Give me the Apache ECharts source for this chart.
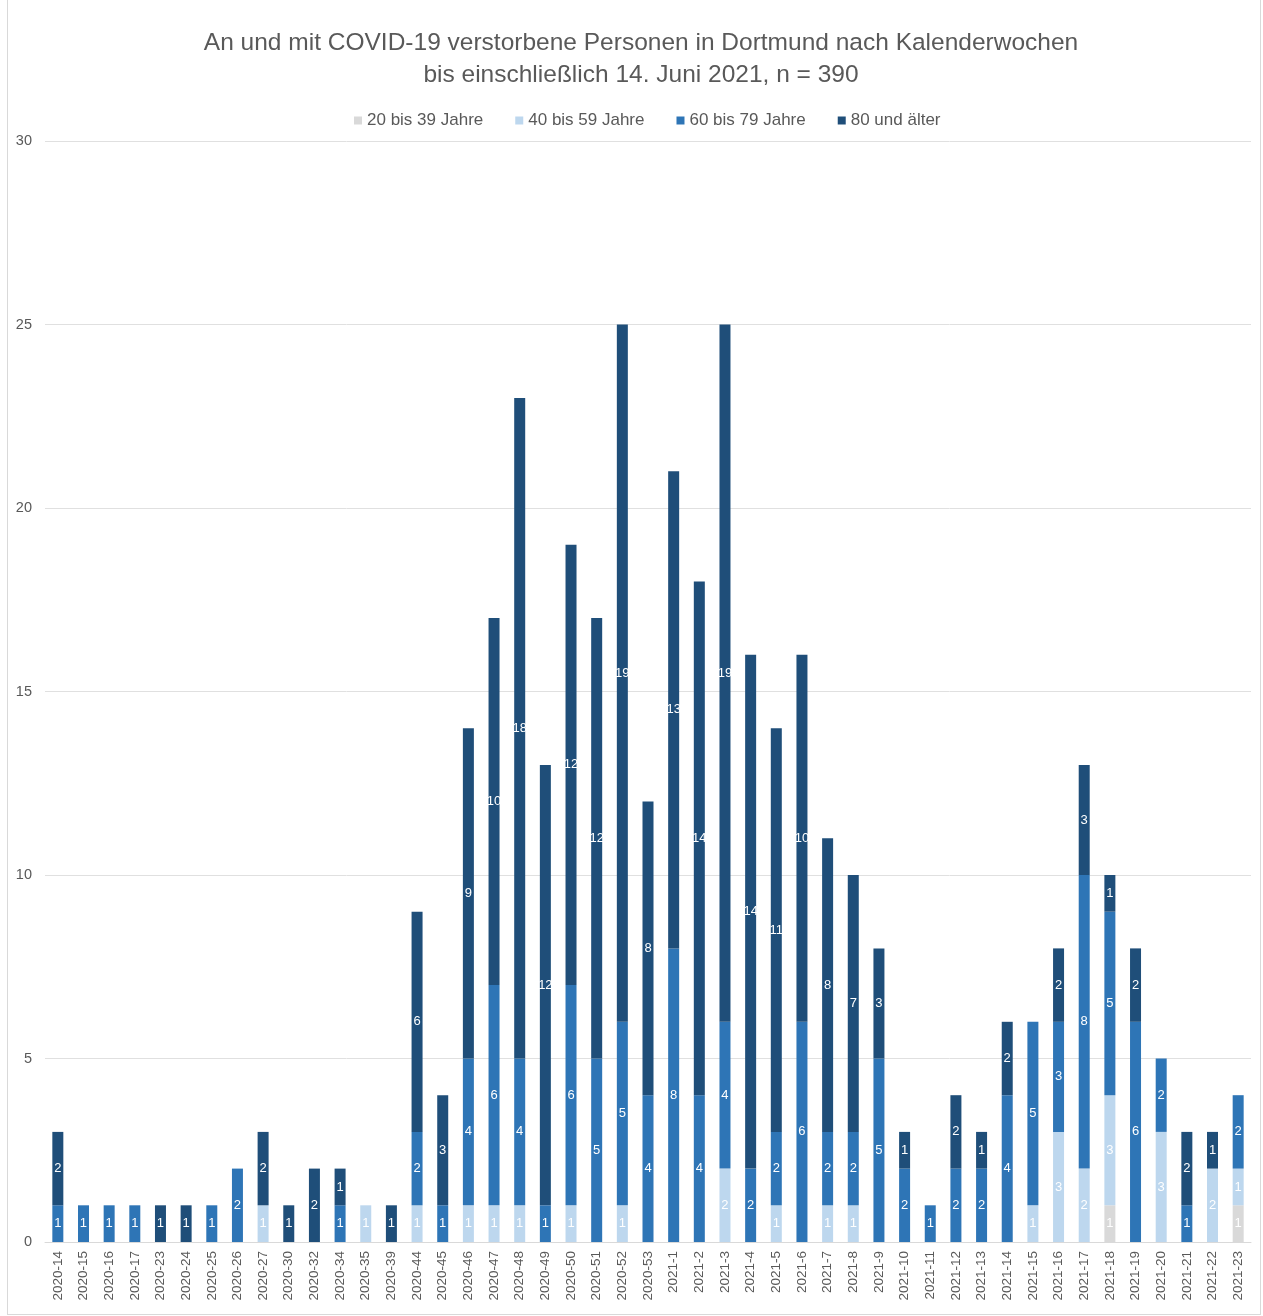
<!DOCTYPE html>
<html>
<head>
<meta charset="utf-8">
<script src="https://cdn.jsdelivr.net/npm/echarts@6/dist/echarts.min.js"></script>
<style>
html,body{margin:0;padding:0;background:#fff;}
#frame{position:absolute;left:7px;top:-1px;width:1254px;height:1316px;border:1px solid #d9d9d9;box-sizing:border-box;}
#chart{position:absolute;left:0;top:0;width:1263px;height:1316px;}
</style>
</head>
<body>
<div id="frame"></div>
<div id="chart"></div>
<script>
const categories = ["2020-14","2020-15","2020-16","2020-17","2020-23","2020-24","2020-25","2020-26","2020-27","2020-30","2020-32","2020-34","2020-35","2020-39","2020-44","2020-45","2020-46","2020-47","2020-48","2020-49","2020-50","2020-51","2020-52","2020-53","2021-1","2021-2","2021-3","2021-4","2021-5","2021-6","2021-7","2021-8","2021-9","2021-10","2021-11","2021-12","2021-13","2021-14","2021-15","2021-16","2021-17","2021-18","2021-19","2021-20","2021-21","2021-22","2021-23"];
const age20to39 = [0,0,0,0,0,0,0,0,0,0,0,0,0,0,0,0,0,0,0,0,0,0,0,0,0,0,0,0,0,0,0,0,0,0,0,0,0,0,0,0,0,1,0,0,0,0,1];
const age40to59 = [0,0,0,0,0,0,0,0,1,0,0,0,1,0,1,0,1,1,1,0,1,0,1,0,0,0,2,0,1,0,1,1,0,0,0,0,0,0,1,3,2,3,0,3,0,2,1];
const age60to79 = [1,1,1,1,0,0,1,2,0,0,0,1,0,0,2,1,4,6,4,1,6,5,5,4,8,4,4,2,2,6,2,2,5,2,1,2,2,4,5,3,8,5,6,2,1,0,2];
const age80plus = [2,0,0,0,1,1,0,0,2,1,2,1,0,1,6,3,9,10,18,12,12,12,19,8,13,14,19,14,11,10,8,7,3,1,0,2,1,2,0,2,3,1,2,0,2,1,0];
const seriesNames = ["20 bis 39 Jahre","40 bis 59 Jahre","60 bis 79 Jahre","80 und älter"];
const seriesColors = ["#d9d9d9","#bdd7ee","#2e75b6","#1f4e79"];
const yTicks = [0,5,10,15,20,25,30];

const dataSets = [age20to39, age40to59, age60to79, age80plus];
const chart = echarts.init(document.getElementById('chart'));
const font = "'Liberation Sans', Arial, sans-serif";
chart.setOption({
  animation: false,
  backgroundColor: 'transparent',
  title: {
    text: 'An und mit COVID-19 verstorbene Personen in Dortmund nach Kalenderwochen\nbis einschließlich 14. Juni 2021, n = 390',
    left: 636, top: 22, textAlign: 'center',
    textStyle: {fontFamily: font, fontSize: 24.5, fontWeight: 'normal', color: '#595959', lineHeight: 32}
  },
  legend: {
    top: 107, left: 349,
    itemWidth: 8, itemHeight: 8, itemGap: 32,
    icon: 'rect',
    textStyle: {fontFamily: font, fontSize: 17, color: '#595959'},
    data: seriesNames
  },
  grid: {left: 45, right: 12, top: 141, bottom: 74, containLabel: false},
  xAxis: {
    type: 'category', data: categories,
    axisLine: {show: true, lineStyle: {color: '#d9d9d9', width: 1}},
    axisTick: {show: false},
    axisLabel: {rotate: 90, interval: 0, margin: 9, fontFamily: font, fontSize: 13.5, color: '#595959'}
  },
  yAxis: {
    type: 'value', min: yTicks[0], max: yTicks[yTicks.length-1], interval: 5,
    axisLine: {show: false}, axisTick: {show: false},
    splitLine: {lineStyle: {color: '#e0e0e0', width: 1}},
    axisLabel: {margin: 13, fontFamily: font, fontSize: 14.5, color: '#595959'}
  },
  series: dataSets.map((d, i) => ({
    name: seriesNames[i], type: 'bar', stack: 'total',
    data: d.map(v => v === 0 ? null : v),
    barWidth: 11,
    itemStyle: {color: seriesColors[i]},
    label: {
      show: true, position: 'inside', color: '#ffffff',
      fontFamily: font, fontSize: 13,
      formatter: p => (p.value ? String(p.value) : '')
    }
  }))
});
</script>
</body>
</html>
